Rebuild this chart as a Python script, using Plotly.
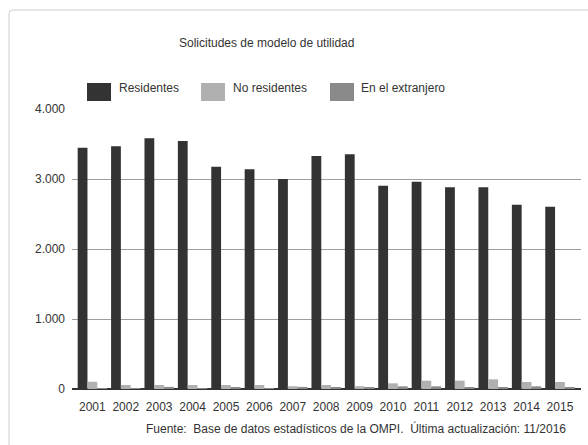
import plotly.graph_objects as go

# Solicitudes de modelo de utilidad, 2001-2015
years = ["2001", "2002", "2003", "2004", "2005", "2006", "2007", "2008",
         "2009", "2010", "2011", "2012", "2013", "2014", "2015"]
residentes = [3448, 3467, 3581, 3543, 3176, 3138, 3000, 3329,
              3353, 2904, 2961, 2881, 2881, 2633, 2605]
no_residentes = [104, 57, 57, 57, 57, 57, 40, 57,
                 40, 81, 119, 119, 138, 100, 100]
extranjero = [4, 4, 30, 4, 25, 4, 30, 20,
              20, 38, 38, 24, 24, 38, 20]

series_names = ["Residentes", "No residentes", "En el extranjero"]
series_colors = ["#333333", "#b0b0b0", "#8a8a8a"]
y_ticks = [0, 1000, 2000, 3000, 4000]

FONT = "Liberation Sans, Arial"
TXT = "#333333"

# plot area in pixels (588x445 page)
ML, MR, MT, MB = 72, 7, 109, 56
PW, PH = 588 - ML - MR, 445 - MT - MB


def px(x):
    return (x - ML) / PW


def py(y):
    return (445 - MB - y) / PH


fig = go.Figure()
for name, vals, col in zip(series_names, [residentes, no_residentes, extranjero], series_colors):
    fig.add_trace(go.Bar(x=years, y=vals, name=name, marker_color=col,
                         marker_line_width=0, showlegend=False))

# hand-made legend with big swatches like the original
legend_boxes = [(87, 111), (201, 225), (330, 354)]
legend_text_x = [117, 231, 359]
shapes = []
annotations = []
for (x0, x1), tx, name, col in zip(legend_boxes, legend_text_x, series_names, series_colors):
    shapes.append(dict(type="rect", xref="paper", yref="paper",
                       x0=px(x0), x1=px(x1), y0=py(101), y1=py(83),
                       fillcolor=col, line_width=0))
    annotations.append(dict(x=px(tx), y=py(88), xref="paper", yref="paper",
                            text=name, showarrow=False, xanchor="left", yanchor="middle",
                            font=dict(size=12)))

# card border (top-left corner of the frame)
shapes.append(dict(type="path", xref="paper", yref="paper",
                   fillcolor="rgba(0,0,0,0)",
                   path="M {a},{b} L {a},{c} Q {a},{d} {e},{d} L {f},{d}".format(
                       a=px(9), b=py(460), c=py(14), d=py(10), e=px(13), f=px(620)),
                   line=dict(color="#cccccc", width=1)))

annotations.append(dict(x=px(266), y=py(43), xref="paper", yref="paper",
                        text="Solicitudes de modelo de utilidad", showarrow=False,
                        xanchor="center", yanchor="middle", font=dict(size=12)))
annotations.append(dict(x=px(568), y=py(428), xref="paper", yref="paper",
                        text="Fuente:  Base de datos estadísticos de la OMPI.  Última actualización: 11/2016",
                        showarrow=False, xanchor="right", yanchor="middle", font=dict(size=12)))

fig.update_layout(
    width=588, height=445,
    margin=dict(l=ML, r=MR, t=MT, b=MB, pad=0),
    paper_bgcolor="white", plot_bgcolor="white",
    barmode="group", bargap=0.12, bargroupgap=0,
    separators=",.",
    font=dict(family=FONT, size=12, color=TXT),
    shapes=shapes, annotations=annotations,
    xaxis=dict(range=[-0.61, 14.63], showgrid=False, ticks="", showline=False,
               tickfont=dict(size=12), tickangle=0, ticklabelstandoff=9),
    yaxis=dict(range=[0, 4000], tickvals=y_ticks, tickformat=",",
               showgrid=True, gridcolor="#9e9e9e", gridwidth=1,
               zeroline=True, zerolinecolor="#333333", zerolinewidth=1.5,
               ticks="", ticklabelstandoff=6, tickfont=dict(size=12)),
)

fig.write_html("out.html", config={"displayModeBar": False},
               post_script="document.body.style.margin='0px';")
